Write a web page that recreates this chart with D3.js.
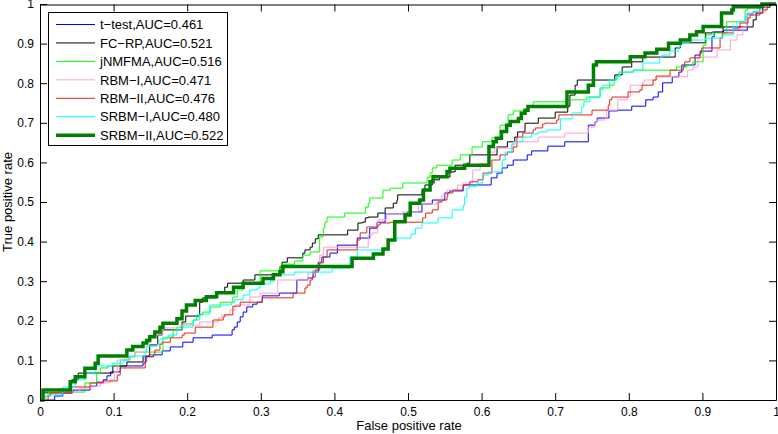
<!DOCTYPE html>
<html><head><meta charset="utf-8">
<script src="https://cdn.jsdelivr.net/npm/d3@7/dist/d3.min.js"></script>
<style>
html,body{margin:0;padding:0;background:#fff;}
svg{display:block;font-family:"Liberation Sans",Arial,Helvetica,sans-serif;}
</style></head>
<body>
<svg id="chart" width="778" height="434"></svg>
<script>
// ---------- data ----------
const seriesNames = ["t\u2212test,AUC=0.461","FC\u2212RP,AUC=0.521","jNMFMA,AUC=0.516","RBM\u2212I,AUC=0.471","RBM\u2212II,AUC=0.476","SRBM\u2212I,AUC=0.480","SRBM\u2212II,AUC=0.522"];
const xTickLabels = ["0","0.1","0.2","0.3","0.4","0.5","0.6","0.7","0.8","0.9","1"];
const yTickLabels = ["0","0.1","0.2","0.3","0.4","0.5","0.6","0.7","0.8","0.9","1"];
const xTitle = "False positive rate";
const yTitle = "True positive rate";

const tTest = [[0,0],[0.020,0.010],[0.031,0.018],[0.045,0.025],[0.068,0.035],[0.077,0.045],[0.086,0.051],[0.091,0.061],[0.096,0.071],[0.109,0.086],[0.140,0.093],[0.143,0.109],[0.154,0.114],[0.166,0.124],[0.177,0.134],[0.194,0.146],[0.208,0.157],[0.234,0.164],[0.261,0.177],[0.264,0.184],[0.268,0.197],[0.272,0.210],[0.276,0.222],[0.281,0.235],[0.289,0.242],[0.295,0.247],[0.302,0.263],[0.325,0.270],[0.349,0.303],[0.364,0.308],[0.371,0.323],[0.378,0.348],[0.383,0.361],[0.394,0.371],[0.404,0.391],[0.431,0.409],[0.448,0.434],[0.458,0.449],[0.469,0.470],[0.499,0.475],[0.519,0.495],[0.533,0.505],[0.550,0.523],[0.557,0.528],[0.575,0.543],[0.613,0.561],[0.621,0.573],[0.628,0.586],[0.635,0.593],[0.643,0.606],[0.662,0.619],[0.668,0.629],[0.690,0.641],[0.713,0.652],[0.745,0.694],[0.754,0.702],[0.757,0.712],[0.773,0.730],[0.785,0.732],[0.804,0.742],[0.823,0.758],[0.833,0.765],[0.840,0.778],[0.846,0.801],[0.859,0.816],[0.868,0.828],[0.872,0.846],[0.890,0.871],[0.897,0.881],[0.913,0.917],[0.916,0.929],[0.929,0.934],[0.961,0.975],[0.969,0.980],[0.978,0.995],[0.985,1.0],[1,1]];

const fcRp = [[0,0],[0.005,0.018],[0.043,0.051],[0.052,0.068],[0.099,0.086],[0.118,0.096],[0.140,0.111],[0.149,0.139],[0.160,0.164],[0.166,0.177],[0.193,0.197],[0.198,0.212],[0.217,0.247],[0.221,0.258],[0.240,0.273],[0.251,0.285],[0.255,0.295],[0.276,0.303],[0.292,0.316],[0.326,0.336],[0.329,0.348],[0.336,0.359],[0.357,0.371],[0.360,0.379],[0.367,0.386],[0.370,0.396],[0.374,0.407],[0.378,0.417],[0.418,0.429],[0.432,0.447],[0.438,0.449],[0.442,0.460],[0.446,0.462],[0.459,0.472],[0.469,0.485],[0.480,0.497],[0.485,0.505],[0.486,0.518],[0.519,0.530],[0.523,0.543],[0.533,0.548],[0.534,0.556],[0.543,0.563],[0.557,0.576],[0.564,0.593],[0.580,0.598],[0.584,0.619],[0.621,0.639],[0.635,0.652],[0.645,0.664],[0.649,0.677],[0.659,0.699],[0.677,0.712],[0.700,0.727],[0.717,0.742],[0.720,0.770],[0.727,0.795],[0.730,0.808],[0.781,0.821],[0.791,0.841],[0.804,0.854],[0.819,0.866],[0.863,0.889],[0.870,0.902],[0.904,0.927],[0.913,0.929],[0.928,0.942],[0.969,0.960],[0.973,0.977],[0.982,0.992],[0.992,1.0],[1,1]];

const jnmfma = [[0,0],[0.005,0.010],[0.011,0.018],[0.024,0.020],[0.061,0.043],[0.077,0.068],[0.082,0.081],[0.092,0.086],[0.109,0.101],[0.122,0.109],[0.129,0.121],[0.167,0.157],[0.174,0.159],[0.181,0.177],[0.186,0.184],[0.194,0.192],[0.208,0.202],[0.213,0.215],[0.221,0.222],[0.231,0.235],[0.245,0.247],[0.262,0.260],[0.268,0.278],[0.276,0.293],[0.299,0.326],[0.326,0.338],[0.329,0.343],[0.346,0.351],[0.357,0.366],[0.367,0.374],[0.380,0.412],[0.385,0.434],[0.387,0.449],[0.390,0.462],[0.414,0.472],[0.442,0.487],[0.446,0.497],[0.448,0.510],[0.466,0.530],[0.476,0.535],[0.493,0.548],[0.526,0.563],[0.530,0.573],[0.533,0.586],[0.539,0.593],[0.560,0.606],[0.571,0.619],[0.587,0.639],[0.601,0.652],[0.614,0.662],[0.625,0.694],[0.636,0.720],[0.643,0.730],[0.663,0.740],[0.670,0.753],[0.717,0.758],[0.743,0.765],[0.761,0.788],[0.774,0.795],[0.780,0.808],[0.783,0.818],[0.787,0.828],[0.806,0.833],[0.865,0.841],[0.879,0.846],[0.887,0.854],[0.901,0.896],[0.905,0.922],[0.913,0.927],[0.933,0.955],[0.958,0.985],[0.962,0.990],[0.978,0.997],[0.986,1.0],[1,1]];

const rbm1 = [[0,0],[0.008,0.008],[0.011,0.015],[0.027,0.020],[0.054,0.030],[0.068,0.035],[0.082,0.043],[0.095,0.051],[0.101,0.071],[0.105,0.101],[0.120,0.109],[0.129,0.121],[0.145,0.152],[0.152,0.164],[0.167,0.182],[0.190,0.189],[0.217,0.197],[0.242,0.207],[0.247,0.215],[0.258,0.227],[0.265,0.240],[0.285,0.260],[0.299,0.270],[0.323,0.303],[0.364,0.321],[0.370,0.328],[0.376,0.341],[0.380,0.366],[0.385,0.386],[0.446,0.417],[0.452,0.422],[0.459,0.455],[0.471,0.470],[0.493,0.475],[0.514,0.495],[0.539,0.500],[0.546,0.518],[0.553,0.530],[0.567,0.543],[0.575,0.548],[0.588,0.581],[0.598,0.598],[0.611,0.626],[0.618,0.636],[0.643,0.652],[0.677,0.664],[0.713,0.674],[0.745,0.689],[0.754,0.702],[0.757,0.707],[0.768,0.712],[0.770,0.732],[0.785,0.758],[0.798,0.765],[0.802,0.795],[0.819,0.803],[0.821,0.808],[0.838,0.816],[0.880,0.833],[0.887,0.841],[0.894,0.866],[0.920,0.884],[0.938,0.909],[0.947,0.922],[0.955,0.942],[0.961,0.972],[0.969,0.980],[0.986,0.997],[0.992,1.0],[1,1]];

const rbm2 = [[0,0],[0.011,0.010],[0.014,0.018],[0.043,0.033],[0.068,0.043],[0.086,0.048],[0.105,0.063],[0.109,0.081],[0.143,0.096],[0.145,0.111],[0.149,0.114],[0.156,0.126],[0.163,0.141],[0.166,0.146],[0.177,0.157],[0.193,0.164],[0.196,0.169],[0.211,0.184],[0.235,0.202],[0.249,0.210],[0.251,0.215],[0.262,0.237],[0.272,0.247],[0.302,0.258],[0.344,0.270],[0.360,0.283],[0.363,0.290],[0.367,0.303],[0.370,0.311],[0.374,0.328],[0.380,0.346],[0.385,0.361],[0.390,0.379],[0.431,0.404],[0.435,0.422],[0.444,0.437],[0.459,0.442],[0.462,0.447],[0.476,0.449],[0.520,0.460],[0.524,0.472],[0.533,0.480],[0.541,0.500],[0.546,0.505],[0.553,0.513],[0.554,0.523],[0.561,0.530],[0.575,0.543],[0.584,0.551],[0.595,0.556],[0.602,0.573],[0.614,0.606],[0.625,0.619],[0.635,0.626],[0.643,0.639],[0.648,0.664],[0.656,0.674],[0.670,0.682],[0.673,0.687],[0.683,0.697],[0.686,0.699],[0.702,0.707],[0.705,0.720],[0.750,0.732],[0.772,0.745],[0.774,0.758],[0.777,0.765],[0.799,0.778],[0.815,0.783],[0.818,0.795],[0.833,0.808],[0.837,0.818],[0.856,0.833],[0.874,0.841],[0.876,0.854],[0.883,0.864],[0.897,0.876],[0.899,0.889],[0.924,0.914],[0.927,0.927],[0.942,0.939],[0.951,0.952],[0.962,0.965],[0.965,0.972],[0.978,0.977],[0.982,0.985],[0.988,0.997],[0.995,1.0],[1,1]];

const srbm1 = [[0,0],[0.005,0.008],[0.011,0.013],[0.031,0.033],[0.048,0.051],[0.061,0.068],[0.075,0.086],[0.098,0.093],[0.114,0.101],[0.122,0.111],[0.143,0.124],[0.145,0.136],[0.159,0.141],[0.163,0.154],[0.174,0.164],[0.186,0.177],[0.194,0.184],[0.208,0.202],[0.217,0.217],[0.231,0.240],[0.260,0.245],[0.264,0.253],[0.276,0.265],[0.285,0.278],[0.295,0.283],[0.299,0.293],[0.313,0.301],[0.319,0.316],[0.346,0.323],[0.397,0.333],[0.421,0.361],[0.431,0.379],[0.473,0.402],[0.485,0.409],[0.504,0.419],[0.510,0.434],[0.519,0.447],[0.541,0.460],[0.560,0.480],[0.575,0.492],[0.577,0.513],[0.580,0.535],[0.583,0.540],[0.594,0.548],[0.601,0.568],[0.609,0.576],[0.628,0.606],[0.632,0.626],[0.641,0.646],[0.645,0.652],[0.656,0.664],[0.668,0.672],[0.677,0.677],[0.689,0.682],[0.707,0.710],[0.723,0.725],[0.736,0.740],[0.739,0.753],[0.747,0.765],[0.761,0.783],[0.765,0.795],[0.774,0.808],[0.784,0.816],[0.787,0.828],[0.806,0.833],[0.819,0.851],[0.842,0.864],[0.845,0.871],[0.856,0.881],[0.867,0.891],[0.870,0.902],[0.883,0.909],[0.904,0.914],[0.928,0.922],[0.942,0.942],[0.947,0.955],[0.958,0.967],[0.962,0.977],[0.969,0.980],[0.978,0.995],[0.986,1.0],[1,1]];

const srbm2 = [[0,0],[0.004,0.025],[0.041,0.046],[0.048,0.059],[0.061,0.080],[0.075,0.093],[0.079,0.111],[0.118,0.126],[0.126,0.135],[0.140,0.144],[0.145,0.150],[0.149,0.160],[0.156,0.172],[0.163,0.184],[0.167,0.194],[0.186,0.205],[0.193,0.225],[0.199,0.240],[0.211,0.251],[0.226,0.261],[0.240,0.271],[0.263,0.285],[0.276,0.295],[0.303,0.307],[0.317,0.316],[0.326,0.324],[0.330,0.337],[0.424,0.358],[0.453,0.369],[0.466,0.381],[0.473,0.404],[0.482,0.450],[0.496,0.467],[0.503,0.497],[0.516,0.505],[0.521,0.530],[0.530,0.551],[0.534,0.564],[0.553,0.577],[0.557,0.585],[0.577,0.593],[0.610,0.640],[0.616,0.652],[0.620,0.661],[0.627,0.678],[0.634,0.694],[0.639,0.703],[0.650,0.711],[0.654,0.724],[0.659,0.732],[0.663,0.741],[0.716,0.778],[0.745,0.795],[0.752,0.846],[0.756,0.854],[0.802,0.867],[0.822,0.876],[0.838,0.886],[0.854,0.901],[0.870,0.909],[0.883,0.922],[0.892,0.930],[0.901,0.943],[0.926,0.977],[0.940,0.985],[0.942,0.993],[0.981,1.0],[1,1]];

const seriesData = [tTest, fcRp, jnmfma, rbm1, rbm2, srbm1, srbm2];

// ---------- styles ----------
const seriesColors = ["#0000ff","#000000","#00ff00","#ff9fcf","#e3260f","#00ffff","#008000"];
const seriesWidths = [1,1,1,1,1,1,3.5];

// ---------- layout ----------
const W = 778, H = 434;
const L = 40, R = 776, T = 4, B = 400;
const svg = d3.select("#chart");
const x = d3.scaleLinear().domain([0,1]).range([L,R]);
const y = d3.scaleLinear().domain([0,1]).range([B,T]);
const tickVals = d3.range(11).map(i => i/10);

// plot background
svg.append("rect").attr("x",L).attr("y",T).attr("width",R-L).attr("height",B-T).attr("fill","#fff");

// curves
const clip = svg.append("defs").append("clipPath").attr("id","clip")
  .append("rect").attr("x",L-2).attr("y",T-2).attr("width",R-L+4).attr("height",B-T+4);
const line = d3.line().x(d=>x(d[0])).y(d=>y(d[1])).curve(d3.curveStepAfter);
const gCurves = svg.append("g").attr("clip-path","url(#clip)");
seriesData.forEach((d,i)=>{
  gCurves.append("path").datum(d).attr("d",line)
    .attr("fill","none").attr("stroke",seriesColors[i])
    .attr("stroke-width",seriesWidths[i]).attr("stroke-linejoin","miter");
});

// axes
const fontFam = '"Liberation Sans",Arial,Helvetica,sans-serif';
function styleAxis(g){
  g.selectAll(".domain").attr("stroke","#000").attr("stroke-width",1);
  g.selectAll(".tick line").attr("stroke","#000");
  g.selectAll("text").attr("font-family",fontFam).attr("font-size",12).attr("fill","#000");
}
const xAxis = d3.axisBottom(x).tickValues(tickVals).tickFormat((d,i)=>xTickLabels[i]).tickSize(-7).tickSizeOuter(0).tickPadding(7);
svg.append("g").attr("transform",`translate(0,${B})`).call(xAxis).call(styleAxis);
const xAxisTop = d3.axisTop(x).tickValues(tickVals).tickFormat("").tickSize(-7).tickSizeOuter(0);
svg.append("g").attr("transform",`translate(0,${T+0.5})`).call(xAxisTop).call(styleAxis);
const yAxis = d3.axisLeft(y).tickValues(tickVals).tickFormat((d,i)=>yTickLabels[i]).tickSize(-7).tickSizeOuter(0).tickPadding(6);
svg.append("g").attr("transform",`translate(${L},0)`).call(yAxis).call(styleAxis);
const yAxisRight = d3.axisRight(y).tickValues(tickVals).tickFormat("").tickSize(-7).tickSizeOuter(0);
svg.append("g").attr("transform",`translate(${R},0)`).call(yAxisRight).call(styleAxis);

// axis titles
svg.append("text").attr("x",409).attr("y",430).attr("text-anchor","middle")
  .attr("font-family",fontFam).attr("font-size",13).text(xTitle);
svg.append("text").attr("transform","translate(12,202) rotate(-90)").attr("text-anchor","middle")
  .attr("font-family",fontFam).attr("font-size",13).text(yTitle);

// legend
const lg = svg.append("g");
lg.append("rect").attr("x",48.5).attr("y",12.5).attr("width",179).attr("height",133)
  .attr("fill","#fff").attr("stroke","#000").attr("stroke-width",1);
const rowY = i => 24.5 + i*18.45;
seriesNames.forEach((name,i)=>{
  lg.append("line").attr("x1",56).attr("x2",95).attr("y1",rowY(i)).attr("y2",rowY(i))
    .attr("stroke",seriesColors[i]).attr("stroke-width",seriesWidths[i]);
  lg.append("text").attr("x",100).attr("y",rowY(i)+4.7)
    .attr("font-family",fontFam).attr("font-size",13).attr("fill","#000").text(name);
});
</script>
</body></html>
